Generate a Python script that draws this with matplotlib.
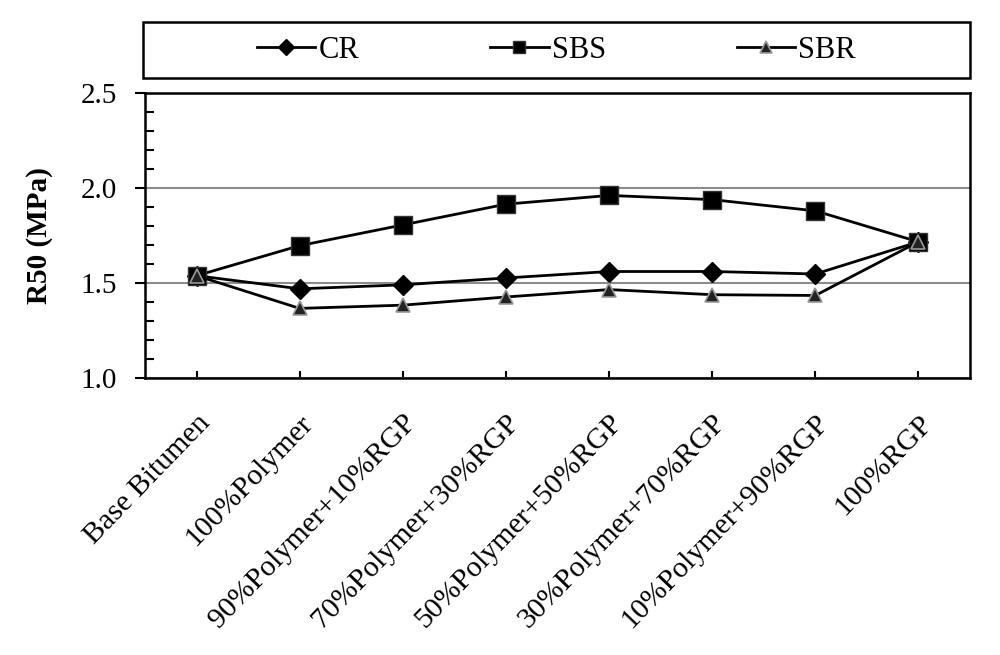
import matplotlib
matplotlib.use("Agg")
import matplotlib.pyplot as plt
from matplotlib.ticker import MultipleLocator
from matplotlib.patches import Rectangle

categories = ["Base Bitumen", "100%Polymer", "90%Polymer+10%RGP", "70%Polymer+30%RGP",
              "50%Polymer+50%RGP", "30%Polymer+70%RGP", "10%Polymer+90%RGP", "100%RGP"]
cr = [1.538, 1.469, 1.490, 1.526, 1.560, 1.560, 1.547, 1.716]
sbs = [1.538, 1.696, 1.805, 1.914, 1.960, 1.938, 1.879, 1.716]
sbr = [1.538, 1.366, 1.383, 1.426, 1.465, 1.438, 1.434, 1.716]

plt.rcParams['font.family'] = ['Liberation Serif', 'DejaVu Serif']

fig = plt.figure(figsize=(10, 6.55), dpi=100)
ax = fig.add_axes([0.145, 0.4229, 0.825, 0.4355])

x = list(range(len(categories)))
ax.plot(x, cr, color='black', lw=2, marker='D', ms=10, mfc='black', mec='black', label='CR', zorder=3)
ax.plot(x, sbs, color='black', lw=2, marker='s', ms=13, mfc='black', mec='#333333', label='SBS', zorder=4)
ax.plot(x, sbr, color='black', lw=2, marker='^', ms=10, mfc='#222222', mec='#999999', mew=1.2, label='SBR', zorder=5)

ax.set_xlim(-0.5, len(categories) - 0.5)
ax.set_ylim(1.0, 2.5)
ax.yaxis.set_minor_locator(MultipleLocator(0.1))
ax.set_yticks([1.0, 1.5, 2.0, 2.5])
ax.set_yticklabels(['1.0', '1.5', '2.0', '2.5'], fontsize=21)
ax.tick_params(axis='y', which='major', direction='out', length=7, width=1.5, pad=13)
ax.tick_params(axis='y', which='minor', direction='in', length=6.5, width=1.5)
ax.grid(axis='y', which='major', color='#8c8c8c', lw=1.5)
ax.set_axisbelow(True)

ax.set_xticks(x)
ax.set_xticklabels(categories, rotation=46, ha='right', va='top', rotation_mode='anchor', fontsize=21.5)
ax.tick_params(axis='x', direction='in', length=5, width=1.5, pad=23)

for s in ax.spines.values():
    s.set_linewidth(1.8)
    s.set_color('black')

ax.set_ylabel('R50 (MPa)', fontsize=21, fontweight='bold')
ax.yaxis.set_label_coords(-0.112, 0.5)

# legend box
fig.patches.append(Rectangle((0.143, 0.881), 0.827, 0.085, transform=fig.transFigure,
                             fill=False, edgecolor='black', lw=1.8))
leg = fig.legend(loc='center', bbox_to_anchor=(0.143, 0.881, 0.827, 0.085),
                 ncol=3, fontsize=22, frameon=False,
                 handlelength=1.9, handletextpad=0.1, columnspacing=4.3)
for h in leg.legend_handles:
    h.set_markersize(8)

fig.savefig('out.png', dpi=100)
